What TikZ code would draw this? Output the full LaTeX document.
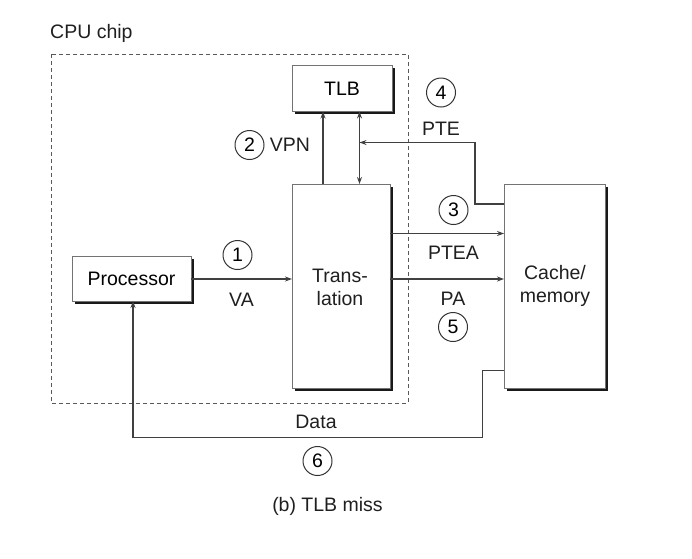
\documentclass[tikz,border=0pt]{standalone}
\usepackage{fontspec}
\setmainfont{Liberation Sans}
\usetikzlibrary{arrows.meta,shadows}
\begin{document}
\begin{tikzpicture}[x=1pt,y=-1pt,
  font=\fontsize{19.5}{23}\selectfont,
  box/.style={draw=black!55, line width=1pt, fill=white, inner sep=0pt,
    drop shadow={shadow xshift=2.8pt, shadow yshift=-2.8pt, fill=black!90, opacity=1}},
  num/.style={circle, draw=black!80, line width=1pt, minimum size=29pt, inner sep=0pt},
  conn/.style={draw=black!75, line width=1.2pt},
  arr/.style={conn, -{Stealth[length=7pt,width=5pt]}},
  lbl/.style={inner sep=0pt, text=black!88}]
\useasboundingbox (0,0) rectangle (692,558);
% dashed CPU chip
\draw[black!65, line width=1pt, dash pattern=on 4pt off 3pt] (51,54) rectangle (408,403);
\node[lbl, anchor=west] (cpu) at (50,33) {CPU chip};
% boxes
\node[box, minimum width=100pt, minimum height=46pt] (tlb) at (342,88.5) {TLB};
\node[box, minimum width=98pt, minimum height=204pt, align=center] (tr) at (341,286) {};
\node[lbl, align=center] (trt) at (340,287) {Trans-\\lation};
\node[box, minimum width=101pt, minimum height=204pt] (cm) at (554.5,286) {};
\node[lbl, align=center] (cmt) at (555,286) {Cache/\\memory};
\node[box, minimum width=119pt, minimum height=45pt] (pr) at (131.5,278.5) {Processor};
% coordinates
\coordinate (vpnB) at (323,184);
\coordinate (vpnT) at (323,111.5);
\coordinate (bdB) at (359.5,184);
\coordinate (bdT) at (359.5,111.5);
\coordinate (pte0) at (504,204);
\coordinate (pte1) at (475,204);
\coordinate (pte2) at (475,142.5);
\coordinate (pte3) at (359.5,142.5);
\coordinate (ptea0) at (390,233.5);
\coordinate (ptea1) at (504,233.5);
\coordinate (pa0) at (390,279);
\coordinate (pa1) at (504,279);
\coordinate (va0) at (191,279);
\coordinate (va1) at (292,279);
\coordinate (d0) at (504,370.5);
\coordinate (d1) at (482.5,370.5);
\coordinate (d2) at (482.5,437.5);
\coordinate (d3) at (133,437.5);
\coordinate (d4) at (133,301);
% connectors
\draw[arr] (vpnB) -- (vpnT);
\draw[conn, {Stealth[length=7pt,width=5pt]}-{Stealth[length=7pt,width=5pt]}] (bdB) -- (bdT);
\draw[arr] (pte0) -- (pte1) -- (pte2) -- (pte3);
\draw[arr] (ptea0) -- (ptea1);
\draw[arr] (pa0) -- (pa1);
\draw[arr] (va0) -- (va1);
\draw[arr] (d0) -- (d1) -- (d2) -- (d3) -- (d4);
% labels
\node[num] (n1) at (237.5,255) {1};
\node[lbl] (va) at (241.5,300) {VA};
\node[num] (n2) at (249.5,145) {2};
\node[lbl] (vpn) at (290,145) {VPN};
\node[num] (n3) at (453.5,210) {3};
\node[lbl] (ptea) at (453.5,253) {PTEA};
\node[num] (n4) at (441,92.5) {4};
\node[lbl] (pte) at (441,128.5) {PTE};
\node[lbl] (pa) at (453,299) {PA};
\node[num] (n5) at (453,327) {5};
\node[lbl] (data) at (316,421.5) {Data};
\node[num] (n6) at (317.5,461) {6};
\node[lbl] (cap) at (327.5,506.5) {(b) TLB miss};
\end{tikzpicture}
\end{document}
